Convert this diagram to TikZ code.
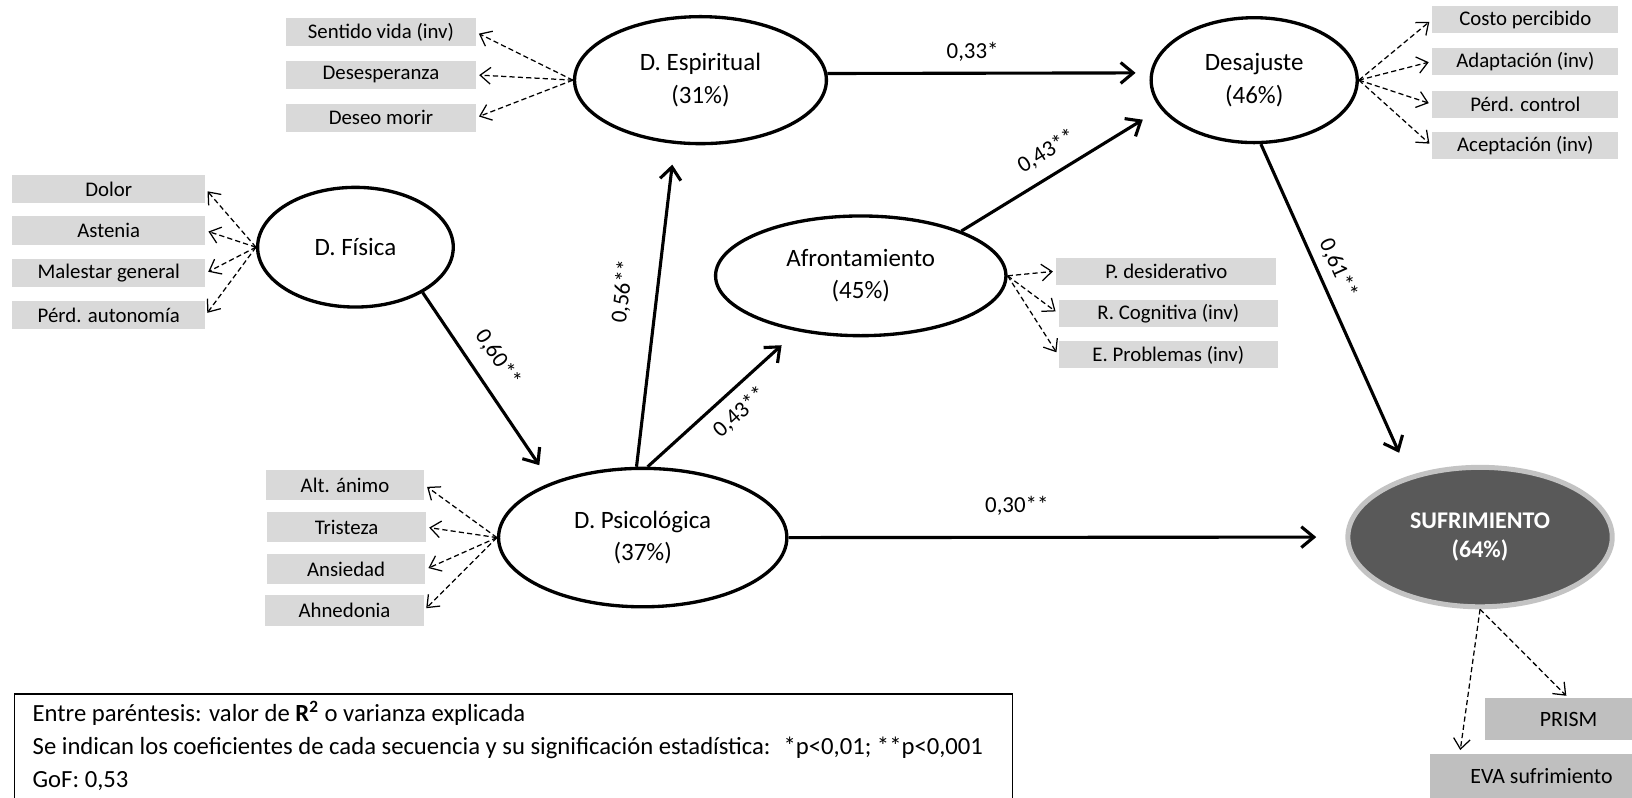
\documentclass[tikz,border=0pt]{standalone}
\usepackage{fontspec}
\setmainfont{Carlito}
\usetikzlibrary{arrows.meta,shapes.geometric,calc}
\definecolor{boxgray}{HTML}{D9D9D9}
\definecolor{boxdark}{HTML}{BFBFBF}
\definecolor{sufill}{HTML}{595959}
\definecolor{suedge}{HTML}{C3C3C3}
\tikzset{
  latent/.style={ellipse, draw, line width=1.6pt, inner sep=0pt, align=center,
    font=\fontsize{12}{15.5}\selectfont},
  target/.style={ellipse, draw=suedge, fill=sufill, line width=2.4pt, inner sep=0pt,
    align=center, text=white, font=\bfseries\fontsize{11.5}{14}\selectfont},
  indic/.style={rectangle, fill=boxgray, inner sep=0pt, font=\fontsize{10}{12}\selectfont},
  indicdark/.style={rectangle, fill=boxdark, inner sep=0pt, font=\fontsize{10.5}{12}\selectfont},
  causal/.style={line width=1.5pt, -{Straight Barb[length=6pt,width=10pt]}, shorten >=9pt},
  loading/.style={line width=0.6pt, dash pattern=on 2.5pt off 1.5pt,
    -{Straight Barb[length=5pt,width=8pt]}, shorten >=1.5pt},
  coef/.style={font=\fontsize{11}{12}\selectfont, sloped, inner sep=2pt},
  legendbox/.style={draw, line width=0.7pt, rectangle, inner sep=0pt}
}
\begin{document}
\begin{tikzpicture}[x=0.5pt, y=-0.5pt]
\useasboundingbox (0,0) rectangle (1568,766);
\clip (0,0) rectangle (1568,766);

% latent constructs
\node[latent, minimum width=121pt, minimum height=61pt] (esp) at (673,77) {D. Espiritual\\(31\%)};
\node[latent, minimum width=99pt, minimum height=60pt] (desaj) at (1205,77) {Desajuste\\(46\%)};
\node[latent, minimum width=94pt, minimum height=57.5pt] (fis) at (341.5,237.5) {D. Física};
\node[latent, minimum width=139.5pt, minimum height=57.5pt] (afr) at (827,265) {Afrontamiento\\(45\%)};
\node[latent, minimum width=138.5pt, minimum height=66.5pt] (psi) at (617.5,516.5) {D. Psicológica\\(37\%)};
\node[target, minimum width=127pt, minimum height=67pt] (suf) at (1422,516) {SUFRIMIENTO\\(64\%)};

% indicators of D. Espiritual
\node[indic, minimum width=91pt, minimum height=13.5pt] (sv) at (366,31) {Sentido vida (inv)};
\node[indic, minimum width=91pt, minimum height=13.5pt] (dsp) at (366,72) {Desesperanza};
\node[indic, minimum width=91pt, minimum height=13.5pt] (dm) at (366,113) {Deseo morir};

% indicators of D. Fisica
\node[indic, minimum width=92.5pt, minimum height=13.5pt] (dolor) at (104.5,181.5) {Dolor};
\node[indic, minimum width=92.5pt, minimum height=13.5pt] (ast) at (104.5,221.5) {Astenia};
\node[indic, minimum width=92.5pt, minimum height=13.5pt] (mal) at (104.5,262.5) {Malestar general};
\node[indic, minimum width=92.5pt, minimum height=13.5pt] (paut) at (104.5,303) {Pérd. autonomía};

% indicators of Desajuste
\node[indic, minimum width=89.5pt, minimum height=13pt] (costo) at (1465.5,19) {Costo percibido};
\node[indic, minimum width=89.5pt, minimum height=13pt] (adapt) at (1465.5,59) {Adaptación (inv)};
\node[indic, minimum width=89.5pt, minimum height=13pt] (pctl) at (1465.5,100) {Pérd. control};
\node[indic, minimum width=89.5pt, minimum height=13pt] (acep) at (1465.5,140) {Aceptación (inv)};

% indicators of Afrontamiento
\node[indic, minimum width=105.5pt, minimum height=13pt] (pdes) at (1120.5,260.5) {P. desiderativo};
\node[indic, minimum width=105.5pt, minimum height=13pt] (rcog) at (1122.5,301) {R. Cognitiva (inv)};
\node[indic, minimum width=105.5pt, minimum height=13pt] (eprob) at (1122.5,341) {E. Problemas (inv)};

% indicators of D. Psicologica
\node[indic, minimum width=76pt, minimum height=14.5pt] (alt) at (331.5,466) {Alt. ánimo};
\node[indic, minimum width=76pt, minimum height=14.5pt] (tris) at (333,506.5) {Tristeza};
\node[indic, minimum width=76pt, minimum height=14.5pt] (ansi) at (332.5,547) {Ansiedad};
\node[indic, minimum width=76pt, minimum height=14.5pt] (ahne) at (331,586.5) {Ahnedonia};

% indicators of Sufrimiento
\node[indicdark, minimum width=80pt, minimum height=20pt] (prism) at (1507,691) {PRISM};
\node[indicdark, minimum width=107pt, minimum height=22pt] (eva) at (1481,746) {EVA sufrimiento};

% measurement paths
\foreach \b in {sv,dsp,dm} \draw[loading] (esp.west) -- (\b.east);
\foreach \b in {dolor,ast,mal,paut} \draw[loading] (fis.west) -- (\b.east);
\foreach \b in {alt,tris,ansi,ahne} \draw[loading] (psi.west) -- (\b.east);
\foreach \b in {costo,adapt,pctl,acep} \draw[loading] (desaj.east) -- (\b.west);
\foreach \b in {pdes,rcog,eprob} \draw[loading] (afr.east) -- (\b.west);
\draw[loading] (suf.south) -- (prism.north);
\draw[loading] (suf.south) -- ($(eva.north west)+(29,0)$);

% structural paths
\draw[causal, shorten >=7pt] (esp.3) -- node[coef, pos=0.45, above=3pt] {0,33*} (desaj.176);
\draw[causal, shorten >=10pt] (afr.24) -- node[coef, pos=0.49, above=4pt] {0,43**} (desaj.197);
\draw[causal, shorten >=12pt] (desaj.276) -- node[coef, pos=0.40, above=2pt] {0,61**} (suf.139);
\draw[causal, shorten >=10pt] (fis.-34) -- node[coef, pos=0.42, above=5pt] {0,60**} (psi.149);
\draw[causal, shorten >=10pt] (psi.95) -- node[coef, pos=0.53, above=9pt] {0,56**} (esp.248);
\draw[causal, shorten >=10pt] (psi.86) -- node[coef, pos=0.52, below=3pt] {0,43**} (afr.221);
\draw[causal, shorten >=14pt] (psi.east) -- node[coef, pos=0.41, above=8pt] {0,30**} (suf.west);

% legend
\node[legendbox, anchor=north west, minimum width=479.5pt, minimum height=62pt] (legend) at (13,666) {};
\node[anchor=north west, align=left, inner sep=0pt, font=\fontsize{11.85}{16}\selectfont]
  (legendtext) at ($(legend.north west)+(18,7)$)
  {Entre paréntesis: valor de \textbf{R\textsuperscript{2}} o varianza explicada\\
   Se indican los coeficientes de cada secuencia y su significación estadística:~ *p<0,01; **p<0,001\\
   GoF: 0,53};
\end{tikzpicture}
\end{document}
